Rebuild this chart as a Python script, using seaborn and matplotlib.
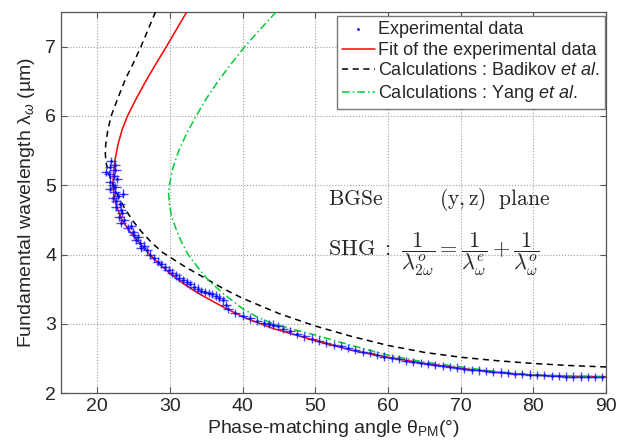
import matplotlib
matplotlib.use('Agg')
import matplotlib.pyplot as plt
import seaborn as sns

# ---- data ----
# fit of the experimental data (theta in deg, lambda in um)
fit_lam = [7.5, 7.25, 7.0, 6.75, 6.5, 6.25, 6.0, 5.8, 5.59, 5.35, 5.15, 5.0, 4.85, 4.7, 4.5,
           4.34, 4.17, 3.98, 3.85, 3.72, 3.57, 3.43, 3.24, 3.08, 2.93, 2.76, 2.62, 2.52, 2.43,
           2.36, 2.30, 2.26, 2.245, 2.24]
fit_theta = [32.3, 30.9, 29.5, 28.05, 26.65, 25.35, 24.15, 23.4, 22.85, 22.4, 22.2, 22.15, 22.3, 22.65, 23.4,
             24.4, 25.8, 27.4, 28.7, 30.1, 32.0, 34.1, 37.4, 40.5, 44.3, 50.0, 55.0, 60.0, 65.0,
             70.0, 75.0, 80.0, 85.0, 90.0]

# Badikov et al.
bad_lam = [7.5, 7.25, 7.0, 6.75, 6.54, 6.25, 6.0, 5.8, 5.59, 5.45, 5.3, 5.11, 4.9, 4.68, 4.5,
           4.34, 4.17, 4.03, 3.83, 3.65, 3.50, 3.37, 3.26, 3.15, 2.97, 2.82, 2.69, 2.59, 2.52,
           2.47, 2.43, 2.40, 2.38]
bad_theta = [28.0, 27.0, 26.0, 24.9, 23.9, 22.8, 21.9, 21.45, 21.15, 21.1, 21.25, 21.8, 22.6, 23.7, 24.8,
             26.0, 27.5, 29.0, 32.0, 35.0, 37.5, 40.0, 42.5, 45.0, 50.0, 55.0, 60.0, 65.0, 70.0,
             75.0, 80.0, 85.0, 90.0]

# Yang et al.
yang_lam = [7.5, 7.25, 7.0, 6.75, 6.5, 6.25, 6.0, 5.75, 5.5, 5.25, 5.0, 4.88, 4.75, 4.55, 4.38,
            4.2, 4.0, 3.82, 3.64, 3.44, 3.22, 3.10, 3.00, 2.92, 2.84, 2.69, 2.55, 2.45,
            2.38, 2.31, 2.27, 2.25, 2.24]
yang_theta = [44.6, 42.4, 40.3, 38.4, 36.6, 35.0, 33.6, 32.3, 31.2, 30.4, 29.9, 29.8, 29.9, 30.2, 30.8,
              31.5, 32.5, 33.8, 35.2, 37.3, 40.0, 42.0, 44.3, 47.0, 50.0, 55.0, 60.0, 65.0,
              70.0, 75.0, 80.0, 85.0, 90.0]

# experimental points
exp_theta = [21.9, 22.4, 21.7, 22.5, 21.2, 21.6, 22.3, 22.7, 21.8, 22.1, 22.5, 21.7, 22.4, 23.5,
             22.8, 22.1, 22.6, 23.1, 22.6, 23.2, 23.4, 23.0, 23.7, 23.3, 24.6, 24.2, 24.9, 25.1,
             25.6, 25.3, 25.9, 26.4, 26.0, 26.8,
             27.3, 27.8, 28.3, 28.8, 29.3, 29.8, 30.3, 30.8, 31.3, 31.8, 32.3, 32.8, 33.3, 33.8,
             34.3, 34.8, 35.3, 35.8, 36.3, 36.8, 37.3, 37.7,
             38.0, 39.0, 40.0, 41.0, 42.0, 43.0, 43.6, 44.2, 44.8, 45.5, 46.5, 47.5, 48.5, 49.5,
             50.5, 51.5, 52.5, 53.5, 54.5, 55.5, 56.5, 57.5, 58.5, 59.5, 60.5, 61.5, 62.5, 63.5,
             64.5, 65.5, 66.5, 67.5, 68.5, 69.5, 70.5, 71.5, 72.5, 73.5, 74.5, 75.5, 76.5, 77.5,
             78.5, 79.5, 80.5, 81.5, 82.5, 83.5, 84.5, 85.5, 86.5, 87.5, 88.5, 89.5]
exp_lam = [5.35, 5.30, 5.26, 5.22, 5.19, 5.16, 5.13, 5.09, 5.05, 5.01, 4.98, 4.95, 4.91, 4.88,
           4.85, 4.81, 4.77, 4.73, 4.69, 4.65, 4.60, 4.55, 4.50, 4.46, 4.42, 4.38, 4.33, 4.29,
           4.25, 4.21, 4.17, 4.13, 4.10, 4.06,
           4.00, 3.95, 3.90, 3.86, 3.82, 3.78, 3.74, 3.70, 3.67, 3.63, 3.60, 3.57, 3.54, 3.51,
           3.48, 3.46, 3.45, 3.43, 3.41, 3.38, 3.34, 3.27,
           3.22, 3.16, 3.12, 3.08, 3.04, 3.01, 3.00, 2.99, 2.97, 2.93, 2.90, 2.86, 2.82, 2.79,
           2.76, 2.73, 2.70, 2.68, 2.65, 2.62, 2.60, 2.58, 2.55, 2.53, 2.51, 2.49, 2.47, 2.45,
           2.44, 2.42, 2.41, 2.39, 2.38, 2.37, 2.35, 2.34, 2.33, 2.32, 2.31, 2.30, 2.29, 2.28,
           2.28, 2.27, 2.26, 2.26, 2.25, 2.25, 2.24, 2.24, 2.24, 2.23, 2.23, 2.23]

sns.set_style('ticks')
plt.rcParams['font.family'] = ['Liberation Sans', 'DejaVu Sans']
plt.rcParams['mathtext.fontset'] = 'custom'
plt.rcParams['mathtext.rm'] = 'Liberation Sans'
plt.rcParams['mathtext.it'] = 'Liberation Sans:italic'
plt.rcParams['mathtext.bf'] = 'Liberation Sans:bold'

fig, ax = plt.subplots(figsize=(6.18, 4.41), dpi=100)
fig.subplots_adjust(left=0.0987, right=0.9806, bottom=0.1082, top=0.9728)

ax.errorbar(exp_theta, exp_lam, xerr=0.7, yerr=0.06, fmt='none', ecolor='#1a1aff',
            elinewidth=1.0, alpha=0.8, zorder=4)
sns.scatterplot(x=exp_theta, y=exp_lam, marker='.', s=15, color='blue', linewidth=0,
                label='Experimental data', zorder=5, ax=ax)
sns.lineplot(x=fit_theta, y=fit_lam, sort=False, estimator=None, color='red', lw=1.1,
             label='Fit of the experimental data', zorder=3, ax=ax)
sns.lineplot(x=bad_theta, y=bad_lam, sort=False, estimator=None, color='black', lw=1.1,
             dashes=False, ls=(0, (4, 3)), label=r'Calculations : Badikov $\mathit{et\ al.}$',
             zorder=3, ax=ax)
sns.lineplot(x=yang_theta, y=yang_lam, sort=False, estimator=None, color='#00cc33', lw=1.1,
             dashes=False, ls=(0, (5, 2, 1, 2)), label=r'Calculations : Yang $\mathit{et\ al.}$',
             zorder=3, ax=ax)

ax.set_xlim(15, 90)
ax.set_ylim(2, 7.5)
ax.set_xticks(range(20, 91, 10))
ax.set_yticks(range(2, 8))
ax.grid(True, ls=':', color='#a0a0a0', lw=0.8)
ax.tick_params(direction='in', top=True, right=True, length=4, labelsize=14, color='#555555')
for s in ax.spines.values():
    s.set_color('#555555')
    s.set_linewidth(0.9)

ax.set_xlabel('Phase-matching angle θ$_{\\mathrm{PM}}$(°)', fontsize=14, labelpad=2)
ax.set_ylabel('Fundamental wavelength λ$_{\\omega}$ (µm)', fontsize=14, labelpad=6)

ax.text(51.8, 4.79, r'$\mathrm{BGSe}$', fontsize=15.5, va='center', math_fontfamily='cm')
ax.text(67.0, 4.79, r'$\mathrm{(y,z)\ \ plane}$', fontsize=15.5, va='center', math_fontfamily='cm')
ax.text(51.8, 4.0, r'$\mathrm{SHG}\ :\ \dfrac{1}{\lambda^{o}_{2\omega}} = \dfrac{1}{\lambda^{e}_{\omega}} + \dfrac{1}{\lambda^{o}_{\omega}}$',
        fontsize=16, va='center', math_fontfamily='cm')

leg = ax.legend(loc='upper right', bbox_to_anchor=(0.998, 0.99), fontsize=13, frameon=True,
                fancybox=False, edgecolor='#777777', borderaxespad=0, handlelength=1.8,
                handletextpad=0.2, borderpad=0.3, labelspacing=0.2, framealpha=1)

plt.savefig('out.png', dpi=100)
